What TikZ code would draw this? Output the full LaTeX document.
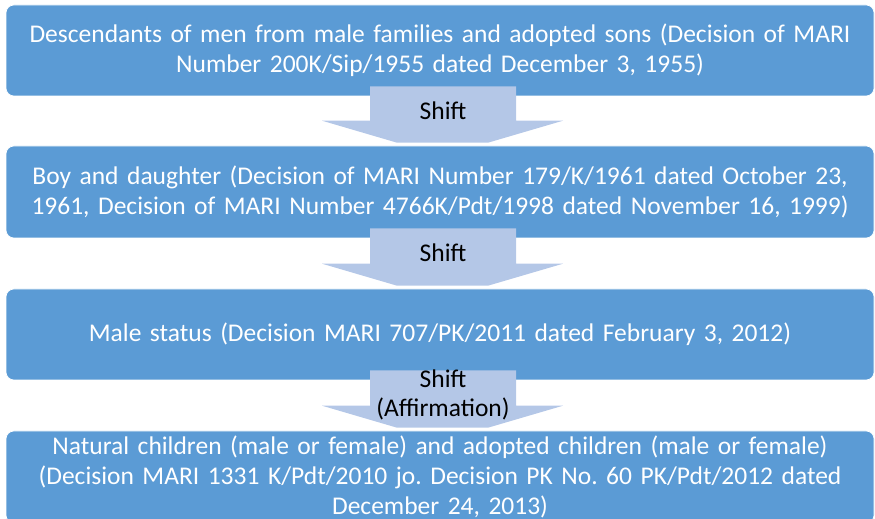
\documentclass[tikz,border=0pt]{standalone}
\usepackage{fontspec}
\setmainfont[WordSpace=0.9]{Carlito}
\usetikzlibrary{calc, positioning}
\definecolor{boxblue}{HTML}{5B9BD5}
\definecolor{shiftblue}{HTML}{B4C7E7}
\tikzstyle{ruling}=[rounded corners=8pt, fill=boxblue, draw=white, line width=0.6pt, text=white, minimum width=868pt, text width=860pt, align=center, font=\fontsize{25.5}{30}\selectfont]
\tikzstyle{shiftarrow}=[fill=shiftblue, draw=none]
\tikzstyle{shiftlabel}=[text=black, align=center, inner sep=0pt, font=\fontsize{25.5}{29}\selectfont]
\frenchspacing

\begin{document}
\begin{tikzpicture}[x=1pt, y=1pt]
		\useasboundingbox (0,0) rectangle (875,519);
		\clip (0,0) rectangle (875,519);

		\node[ruling, minimum height=91pt] (desc) at (440,468.5) {Descendants of men from male families and adopted sons (Decision of MARI\\Number 200K/Sip/1955 dated December 3, 1955)};
		\node[ruling, minimum height=92pt] (boygirl) at (440,327) {Boy and daughter (Decision of MARI Number 179/K/1961 dated October 23,\\1961, Decision of MARI Number 4766K/Pdt/1998 dated November 16, 1999)};
		\node[ruling, minimum height=91pt] (male) at (440,184.5) {Male status (Decision MARI 707/PK/2011 dated February 3, 2012)};
		\node[ruling, minimum height=92pt] (natural) at (440,42) {Natural children (male or female) and adopted children (male or female)\\(Decision MARI 1331 K/Pdt/2010 jo. Decision PK No. 60 PK/Pdt/2012 dated\\December 24, 2013)};

		\foreach \a / \b / \lab in {desc/boygirl/{Shift}, boygirl/male/{Shift}, male/natural/{Shift\\(Affirmation)}} {
		\draw[shiftarrow] let \p1 = (\a.south), \p2 = (\b.north) in
			(370,\y1+10) -- (516,\y1+10) -- (516,\y2+25) -- (563,\y2+25) -- (488,\y2+3)
			-- (397,\y2+3) -- (322,\y2+25) -- (370,\y2+25) -- cycle;
		\path let \p1 = (\a.south), \p2 = (\b.north) in
			node[shiftlabel] (shift-\a) at (443,{(\y1+\y2)/2+10.5}) {\lab};
		}
\end{tikzpicture}
\end{document}
